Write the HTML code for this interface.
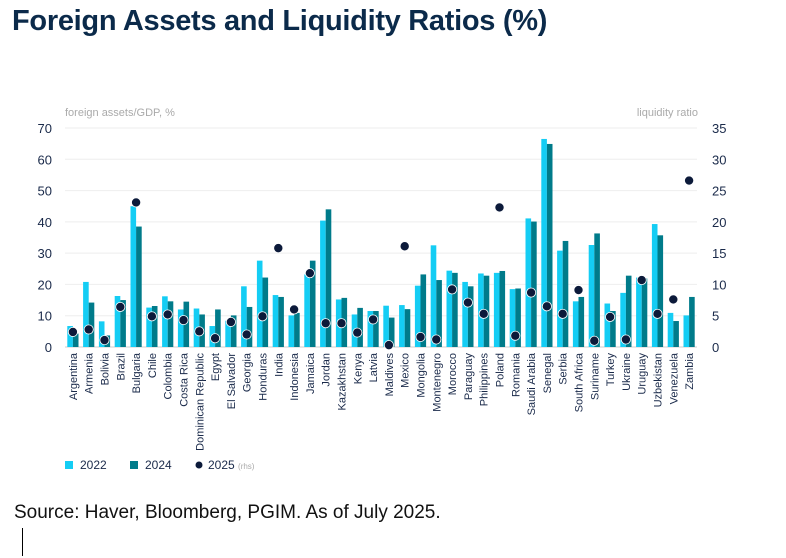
<!DOCTYPE html>
<html><head><meta charset="utf-8"><style>
body{margin:0;width:786px;height:558px;background:#fff;font-family:"Liberation Sans",sans-serif;overflow:hidden;position:relative}
#title{position:absolute;left:12px;top:5px;font-size:29px;font-weight:bold;color:#0b2a4a;margin:0;letter-spacing:-0.3px}
#source{position:absolute;left:14px;top:502px;font-size:19px;color:#111}
#cursor{position:absolute;left:22px;top:528px;width:1px;height:28px;background:#000}
</style></head><body>
<h1 id="title">Foreign Assets and Liquidity Ratios (%)</h1>
<svg id="chart" width="786" height="500" style="position:absolute;left:0;top:0"></svg>
<div id="source">Source: Haver, Bloomberg, PGIM. As of July 2025.</div>
<div id="cursor"></div>
<script>
const categories=["Argentina","Armenia","Bolivia","Brazil","Bulgaria","Chile","Colombia","Costa Rica","Dominican Republic","Egypt","El Salvador","Georgia","Honduras","India","Indonesia","Jamaica","Jordan","Kazakhstan","Kenya","Latvia","Maldives","Mexico","Mongolia","Montenegro","Morocco","Paraguay","Philippines","Poland","Romania","Saudi Arabia","Senegal","Serbia","South Africa","Suriname","Turkey","Ukraine","Uruguay","Uzbekistan","Venezuela","Zambia"];
const values2022=[6.7,20.8,8.2,16.3,45,12.6,16.2,12,12.3,6.7,8.4,19.4,27.6,16.6,10.1,23.2,40.4,15.2,10.4,11.5,13.2,13.4,19.6,32.5,24.4,20.8,23.5,23.7,18.5,41.1,66.5,30.8,14.6,32.6,13.9,17.3,22.2,39.3,10.9,10.1];
const values2024=[4.3,14.2,3.7,15,38.5,13.1,14.6,14.5,10.4,12,10.1,12.8,22.2,16,10.9,27.6,44,15.7,12.5,11.5,9.4,12.1,23.2,21.4,23.7,19.4,22.8,24.3,18.7,40.1,64.9,33.9,16,36.3,11.5,22.8,21.9,35.7,8.3,16];
const values2025rhs=[2.4,2.8,1.1,6.4,23.1,4.9,5.2,4.3,2.5,1.4,4,2,4.9,15.8,6,11.8,3.8,3.8,2.3,4.4,0.3,16.1,1.6,1.2,9.2,7.1,5.3,22.3,1.8,8.7,6.5,5.3,9.1,1,4.8,1.2,10.7,5.3,7.6,26.6];
const leftTicks=[0,10,20,30,40,50,60,70];
const rightTicks=[0,5,10,15,20,25,30,35];
const NS="http://www.w3.org/2000/svg";
const svg=document.getElementById('chart');
const X0=65,X1=697,Y0=347,Y1=128;
const step=(X1-X0)/categories.length;
const yL=v=>Y0-(v/70)*(Y0-Y1);
const yR=v=>Y0-(v/35)*(Y0-Y1);
const xC=i=>X0+step*(i+0.5);
function mk(t,a){const e=document.createElementNS(NS,t);for(const k in a)e.setAttribute(k,a[k]);svg.appendChild(e);return e;}
leftTicks.forEach((t,i)=>{
 const g=mk('line',{x1:X0,x2:X1,y1:yL(t),y2:yL(t),stroke:i?'#eeeeee':'#cccccc','stroke-width':1});
 
 
 const l=mk('text',{x:52,y:yL(t)+5,'text-anchor':'end','font-size':13,fill:'#1a2a4a'});l.textContent=t;
 
 
});
rightTicks.forEach(t=>{
 const l=mk('text',{x:712,y:yR(t)+5,'font-size':13,fill:'#1a2a4a'});l.textContent=t;
 
 
});
let a=mk('text',{x:65,y:116,'font-size':11,fill:'#aaaaaa'});a.textContent='foreign assets/GDP, %';


a=mk('text',{x:698,y:116,'font-size':11,fill:'#aaaaaa','text-anchor':'end'});a.textContent='liquidity ratio';


const bw=5.6;
categories.forEach((c,i)=>{
 const cx=xC(i);
 let b=mk('rect',{x:cx-bw,y:yL(values2022[i]),width:bw,height:Y0-yL(values2022[i]),fill:'#14cdf4'});
 
 
 b=mk('rect',{x:cx,y:yL(values2024[i]),width:bw,height:Y0-yL(values2024[i]),fill:'#007b8a'});
 
 
 const d=mk('circle',{cx:cx,cy:yR(values2025rhs[i]),r:4.6,fill:'#0c1a3a',stroke:'#ffffff','stroke-width':0.8});
 
 
 const t=mk('text',{x:0,y:0,'font-size':11,fill:'#1a2a4a','text-anchor':'end',transform:`translate(${cx+4},${Y0+6}) rotate(-90)`});
 t.textContent=c;
 
 
});
let r=mk('rect',{x:65,y:461,width:8,height:8,fill:'#14cdf4'});


let t=mk('text',{x:80,y:469,'font-size':12,fill:'#1a2a4a'});t.textContent='2022';


r=mk('rect',{x:130,y:461,width:8,height:8,fill:'#007b8a'});


t=mk('text',{x:145,y:469,'font-size':12,fill:'#1a2a4a'});t.textContent='2024';


r=mk('circle',{cx:199,cy:465,r:3.5,fill:'#0c1a3a'});


t=mk('text',{x:208,y:469,'font-size':12,fill:'#1a2a4a'});t.innerHTML='2025 <tspan font-size="8" fill="#aaaaaa">(rhs)</tspan>';


</script>
</body></html>
